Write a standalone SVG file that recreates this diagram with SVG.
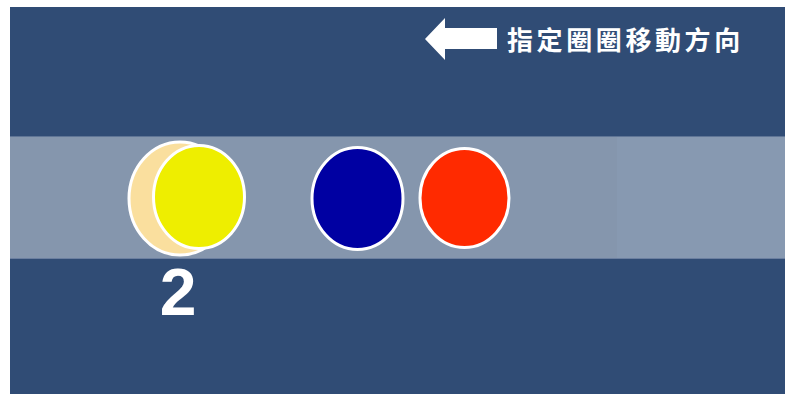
<svg xmlns="http://www.w3.org/2000/svg" width="785" height="394" viewBox="0 0 785 394">
  <style>
    .disc { stroke: #ffffff; stroke-width: 3; }
    .label { font-family: "Noto Sans CJK TC", "Noto Sans CJK SC", sans-serif; font-weight: bold; fill: #ffffff; }
    .num { font-family: "Liberation Sans", Arial, sans-serif; font-weight: bold; fill: #ffffff; }
  </style>
  <rect x="0" y="0" width="785" height="394" fill="#ffffff"/>
  <rect id="background" x="10" y="7" width="775" height="387" fill="#304c75"/>
  <g id="band">
    <rect x="10" y="136" width="775" height="123" fill="#8596ad"/>
    <rect x="617" y="136" width="168" height="123" fill="#8799b1"/>
    <line x1="10" y1="136.5" x2="785" y2="136.5" stroke="#5f7596" stroke-width="1"/>
    <line x1="10" y1="258.5" x2="785" y2="258.5" stroke="#6b7fa0" stroke-width="1"/>
  </g>
  <g id="direction-hint">
    <polygon points="425,39 445,18 445,28 497,28 497,49 445,49 445,60" fill="#ffffff"/>
    <text class="label" x="507" y="50" font-size="26" letter-spacing="3.6">指定圈圈移動方向</text>
  </g>
  <g id="yellow-disc">
    <ellipse class="disc" cx="180" cy="198.5" rx="51" ry="56.5" fill="#fadf9e"/>
    <ellipse class="disc" cx="199" cy="197" rx="45.5" ry="51.5" fill="#eeee00"/>
  </g>
  <g id="blue-disc">
    <ellipse class="disc" cx="357.5" cy="198.5" rx="45.5" ry="51" fill="#0000a2"/>
  </g>
  <g id="red-disc">
    <ellipse class="disc" cx="464.5" cy="198" rx="44.5" ry="49.5" fill="#ff2a00"/>
  </g>
  <g id="counter">
    <text class="num" x="178" y="315" font-size="66" text-anchor="middle">2</text>
  </g>
</svg>
